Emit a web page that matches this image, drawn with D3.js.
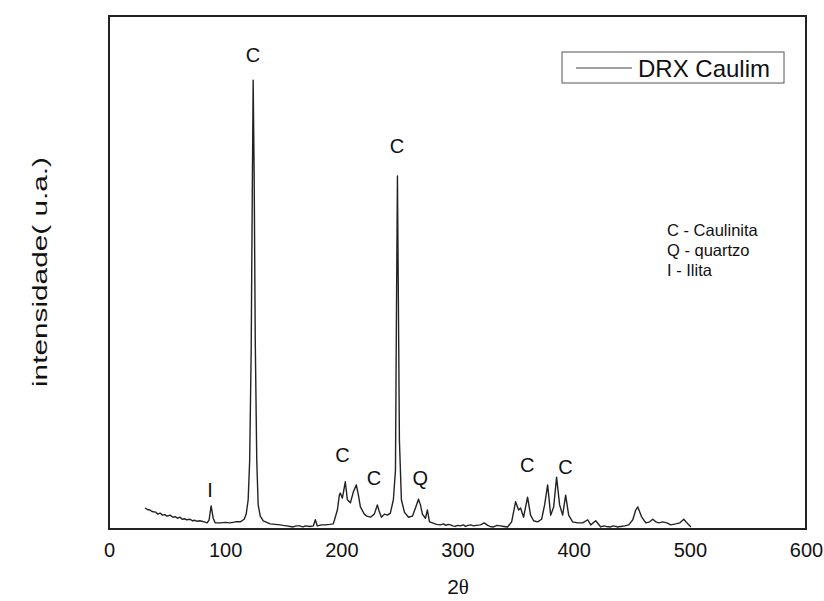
<html>
<head>
<script src="https://d3js.org/d3.v7.min.js"></script>
<style>
body { margin: 0; background: white; }
text { font-family: 'Liberation Sans', Arial, sans-serif; fill: #111; }
</style>
</head>
<body>
<svg width="824" height="601"></svg>
<script>
// XRD pattern (2theta, arbitrary intensity)
const twoTheta = [31, 33, 35.3, 37, 40, 42, 44, 46, 48, 50, 52.6, 55, 57, 59, 61.2, 63, 65, 67, 69.8, 72, 74, 76, 78.4, 80, 82, 84.5, 86.2, 87.9, 89.7, 91.4, 95.7, 100, 104.3, 109, 113,
  116.4, 118.1, 119.8, 121.1, 122.4, 123.3, 124.1, 125, 125.9, 127.2, 128.4, 130.2, 132.8, 138.8, 143, 147.4, 150, 153, 156, 158.6, 161, 164, 167, 169,
  173, 175.9, 177.6, 179.3, 183, 186.2, 190, 193.1, 196.6, 198.3, 199.1, 200.9, 203.4, 205.2, 207.8, 210.3, 212.9, 214.7, 216.4,
  219.8, 222, 225, 228.4, 231, 232.8, 234.5, 237.1, 239.7, 242.2, 244.8, 246.6, 247.4, 248.3, 249.1, 250, 251.7, 254.3, 257.8, 261.2,
  263.8, 266.4, 268.1, 269.8, 272.4, 274.1, 275.9, 278.4, 282, 285.3, 288, 290, 292, 294, 296, 298, 300, 302.6, 305, 307, 309, 311.2, 314, 316, 319.8, 323, 326, 328, 331,
  334, 337.1, 340, 343.1, 346.6, 350, 352.6, 354.3, 356.9, 360.3, 362.9, 365.5, 369, 372.4, 375, 377.6, 380.2, 382.8, 385.3, 387.9, 390.5,
  393.1, 395.7, 399.1, 403.4, 407.8, 412.1, 414.7, 419, 423.3, 426, 428, 431.9, 434, 436, 438, 440.5, 444, 447.4, 450.9, 453.4, 455.2, 456.9, 458.6,
  462.1, 465.5, 468.1, 470.7, 473.3, 476.7, 480.2, 483.6, 487.9, 491.4, 494.8, 497.4, 500.9];
const intensity = [41, 38, 37, 34, 33, 29, 31, 27, 28, 25, 27, 23, 24, 21, 23, 19, 20, 18, 19, 16, 17, 15, 16, 15, 14, 12, 18, 45, 21, 12, 12, 13, 12, 14, 14,
  19, 29, 57, 134, 349, 641, 875, 680, 368, 134, 47, 25, 16, 10, 9, 8, 7, 6, 5, 4, 6, 6, 4, 6,
  5, 6, 18, 6, 8, 8, 9, 10, 37, 66, 70, 60, 92, 57, 51, 72, 86, 66, 43,
  29, 25, 23, 29, 47, 33, 23, 29, 27, 31, 57, 115, 407, 688, 446, 173, 57, 33, 23, 25,
  41, 58, 47, 29, 21, 37, 14, 12, 9, 8, 10, 7, 9, 8, 6, 5, 7, 6, 8, 5, 7, 8, 6, 7, 8, 12, 7, 5, 4,
  7, 6, 5, 4, 14, 53, 37, 41, 23, 62, 27, 16, 14, 19, 47, 86, 27, 43, 101, 47, 27,
  66, 27, 14, 12, 12, 18, 8, 16, 4, 6, 5, 4, 6, 5, 4, 5, 6, 8, 18, 37, 43, 33, 23,
  12, 14, 19, 14, 12, 14, 12, 8, 10, 12, 19, 12, 4];

const xTicks = [0, 100, 200, 300, 400, 500, 600];

// phase labels above peaks
const peakLabels = ["C", "C", "C", "C", "Q", "C", "C", "I"];
const peakLabelX = [124, 248, 201, 228, 268, 360, 393, 87];
const peakLabelY = [910, 733, 131, 86, 86, 111, 107, 62];

const legendNotes = ["C - Caulinita", "Q - quartzo", "I - Ilita"];

const svg = d3.select("svg");

var x = d3.scaleLinear().domain([0, 600]).range([109, 806]);
var y = d3.scaleLinear().domain([0, 1000]).range([529, 16]);

const data = twoTheta.map((t, i) => [t, intensity[i]]);

svg.append("path")
  .datum(data)
  .attr("fill", "none")
  .attr("stroke", "#222")
  .attr("stroke-width", 1.4)
  .attr("stroke-linejoin", "round")
  .attr("d", d3.line().x(d => x(d[0])).y(d => y(d[1])));

// frame
svg.append("rect")
  .attr("x", x(0)).attr("y", y(1000))
  .attr("width", x(600) - x(0)).attr("height", y(0) - y(1000))
  .attr("fill", "none").attr("stroke", "#222").attr("stroke-width", 2);

const x_axis = svg.append("g")
  .attr("transform", "translate(0," + y(0) + ")")
  .call(d3.axisBottom(x).tickValues(xTicks).tickSize(0).tickPadding(14));
x_axis.select(".domain").remove();
x_axis.selectAll("text").style("font-size", "20px").style("font-family", "'Liberation Sans', Arial, sans-serif").attr("fill", "#111");

svg.selectAll(".peak")
  .data(peakLabels)
  .enter()
  .append("text")
  .attr("class", "peak")
  .attr("x", (d, i) => x(peakLabelX[i]))
  .attr("y", (d, i) => y(peakLabelY[i]))
  .attr("text-anchor", "middle")
  .style("font-size", "20px")
  .text(d => d);

// axis titles
svg.append("text")
  .attr("x", 458).attr("y", 594)
  .attr("text-anchor", "middle")
  .style("font-size", "21px")
  .html("2<tspan style=\"font-family: 'Liberation Serif', serif\">θ</tspan>");

svg.append("text")
  .attr("transform", "translate(47,272) rotate(-90)")
  .attr("text-anchor", "middle")
  .attr("textLength", 230)
  .attr("lengthAdjust", "spacingAndGlyphs")
  .style("font-size", "21px")
  .text("intensidade( u.a.)");

// legend
svg.append("rect")
  .attr("x", 562).attr("y", 52).attr("width", 222).attr("height", 31)
  .attr("fill", "white").attr("stroke", "#555").attr("stroke-width", 1);
svg.append("line")
  .attr("x1", 576).attr("x2", 632).attr("y1", 68).attr("y2", 68)
  .attr("stroke", "#444").attr("stroke-width", 1.2);
svg.append("text")
  .attr("x", 638).attr("y", 77)
  .style("font-size", "24px")
  .text("DRX Caulim");

svg.selectAll(".note")
  .data(legendNotes)
  .enter()
  .append("text")
  .attr("class", "note")
  .attr("x", 667)
  .attr("y", (d, i) => 236 + i * 20)
  .style("font-size", "16.5px")
  .text(d => d);
</script>
</body>
</html>
